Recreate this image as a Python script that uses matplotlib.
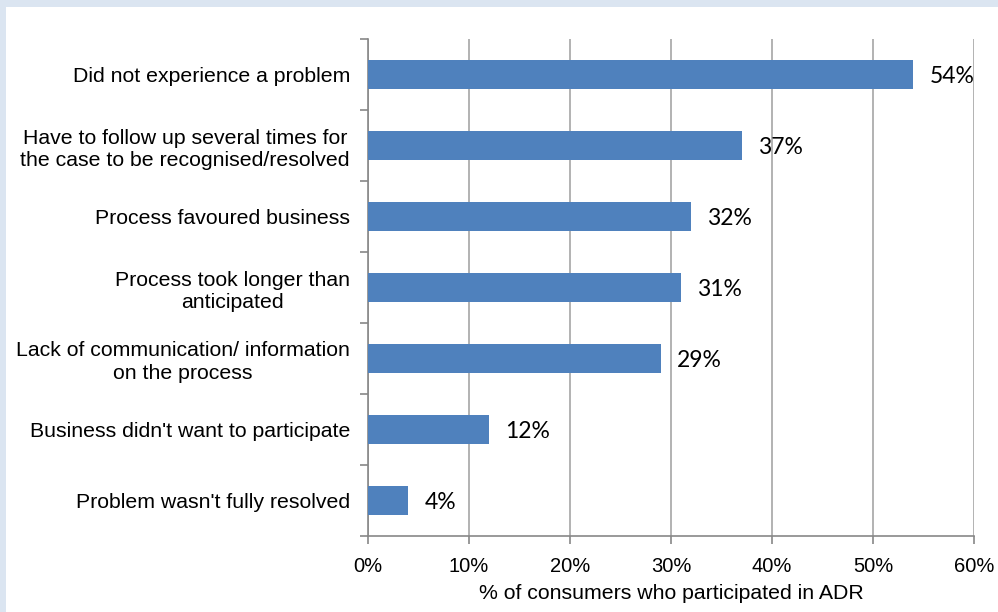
import numpy as np
import matplotlib.pyplot as plt
from matplotlib.patches import Rectangle

# survey answers, top to bottom as in the chart
categories = ["Did not experience a problem",
              "Have to follow up several times for\nthe case to be recognised/resolved",
              "Process favoured business",
              "Process took longer than\nanticipated",
              "Lack of communication/ information\non the process",
              "Business didn't want to participate",
              "Problem wasn't fully resolved"]
values = [54, 37, 32, 31, 29, 12, 4]
xticks = [0, 10, 20, 30, 40, 50, 60]
xlabel = "% of consumers who participated in ADR"

W, H = 998, 612
fig = plt.figure(figsize=(W/100, H/100), dpi=100)
fig.patch.set_facecolor("white")
# light blue band on the left and top edge
band = "#DBE5F1"
fig.patches.append(Rectangle((0, 0), 6/W, 1, transform=fig.transFigure,
                             facecolor=band, edgecolor="none", zorder=-10))
fig.patches.append(Rectangle((0, 1 - 7/H), 1, 7/H, transform=fig.transFigure,
                             facecolor=band, edgecolor="none", zorder=-10))

ax = fig.add_axes([368/W, 1 - 536/H, (974-368)/W, (536-39)/H])
ax.set_facecolor("none")

n = len(categories)
ypos = np.arange(n)
ax.barh(ypos, values, height=0.4, color="#4F81BD", zorder=3)
for y, v in zip(ypos, values):
    ax.text(v + 1.6, y + 0.03, f"{v}%", va="center", ha="left", fontsize=16.5,
            family="Lato", color="black", zorder=4)

ax.set_xlim(0, 60)
ax.set_ylim(n - 0.5, -0.5)
ax.set_xticks(xticks)
ax.set_xticklabels([f"{t}%" for t in xticks], fontsize=14.5, family="Liberation Sans")
ax.set_yticks(ypos)
ax.set_yticklabels(categories, fontsize=15.3, family="Liberation Sans",
                   linespacing=1.25, multialignment="center")
ax.tick_params(axis="y", length=0, pad=13)
ax.set_yticks(np.arange(-0.5, n, 1), minor=True)
ax.tick_params(axis="y", which="minor", length=6, color="#878787", width=1.2)
ax.tick_params(axis="x", length=6, color="#878787", width=1.2, pad=9)

ax.xaxis.grid(True, color="#A6A6A6", linewidth=1.2, zorder=1)
for s in ["top", "right"]:
    ax.spines[s].set_visible(False)
for s in ["left", "bottom"]:
    ax.spines[s].set_color("#878787")
    ax.spines[s].set_linewidth(1.2)

ax.set_xlabel(xlabel, fontsize=15.3, family="Liberation Sans", labelpad=6)

fig.savefig("out.png", dpi=100)
